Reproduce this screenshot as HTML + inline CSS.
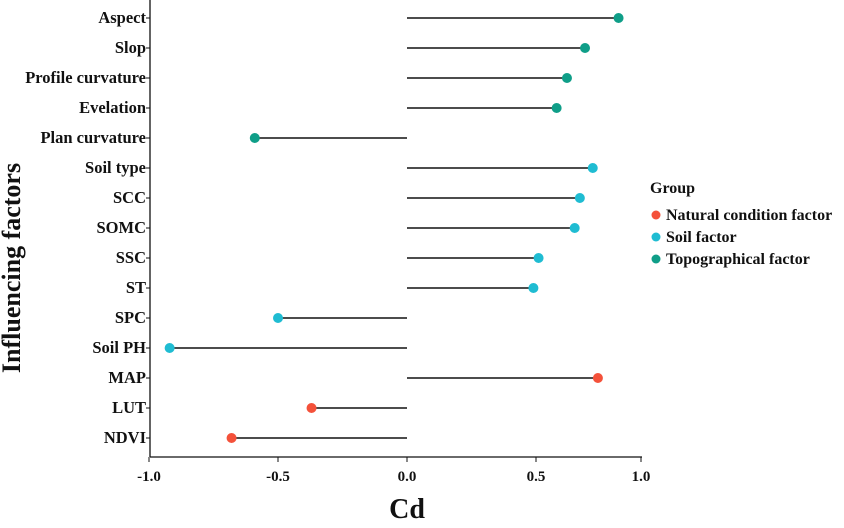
<!DOCTYPE html>
<html><head><meta charset="utf-8"><style>
body{margin:0;background:#fff}
svg text{font-family:"Liberation Serif",serif;font-weight:bold;fill:#111}
</style></head><body>
<svg width="844" height="523">
<g id="plot"></g>
<text x="20" y="268" font-size="26" text-anchor="middle" transform="rotate(-90 20 268)">Influencing factors</text>
<text x="407" y="518" font-size="28" text-anchor="middle">Cd</text>
<g>
<text x="650" y="193" font-size="16">Group</text>
<g><circle cx="656" cy="215" r="4.5" fill="#f4513a"/><text x="666" y="220" font-size="16">Natural condition factor</text></g>
<g><circle cx="656" cy="237" r="4.5" fill="#1fbcd2"/><text x="666" y="242" font-size="16">Soil factor</text></g>
<g><circle cx="656" cy="259" r="4.5" fill="#0f9e88"/><text x="666" y="264" font-size="16">Topographical factor</text></g>
</g>
</svg>
<script>
const categories=["Aspect","Slop","Profile curvature","Evelation","Plan curvature","Soil type","SCC","SOMC","SSC","ST","SPC","Soil PH","MAP","LUT","NDVI"];
const values=[0.82,0.69,0.62,0.58,-0.59,0.72,0.67,0.65,0.51,0.49,-0.50,-0.92,0.74,-0.37,-0.68];
const groups=["t","t","t","t","t","s","s","s","s","s","s","s","n","n","n"];
const xTicks=[-1.0,-0.5,0.0,0.5,1.0];
const xTickLabels=["-1.0","-0.5","0.0","0.5","1.0"];
const colors={n:"#f4513a",s:"#1fbcd2",t:"#0f9e88"};
const NS="http://www.w3.org/2000/svg";
const g=document.getElementById('plot');
const x=v=>407+v*258;
const y=i=>18+i*30;
function mk(t,a){const e=document.createElementNS(NS,t);for(const k in a)e.setAttribute(k,a[k]);g.appendChild(e);return e;}
let ax=mk('line',{x1:150,y1:0,x2:150,y2:457,stroke:'#111','stroke-width':1.3});


let bx=mk('line',{x1:150,y1:457,x2:642,y2:457,stroke:'#111','stroke-width':1.3});


xTicks.forEach((v,i)=>{
  const px=Math.min(x(v),641);
  const tk=mk('line',{x1:px,y1:457,x2:px,y2:462,stroke:'#111'});
  
  
  const t=mk('text',{x:px,y:481,'font-size':15,'text-anchor':'middle'});
  t.textContent=xTickLabels[i];
  
  
});
categories.forEach((c,i)=>{
  const yy=y(i);
  const tk=mk('line',{x1:146,y1:yy,x2:150,y2:yy,stroke:'#111'});
  
  
  const t=mk('text',{x:146,y:yy+5,'font-size':16.5,'text-anchor':'end'});
  t.textContent=c;
  
  
  const s=mk('line',{x1:x(0),y1:yy,x2:x(values[i]),y2:yy,stroke:'#111','stroke-width':1.6});
  
  
  const d=mk('circle',{cx:x(values[i]),cy:yy,r:5,fill:colors[groups[i]]});
  
  
});
</script>
</body></html>
